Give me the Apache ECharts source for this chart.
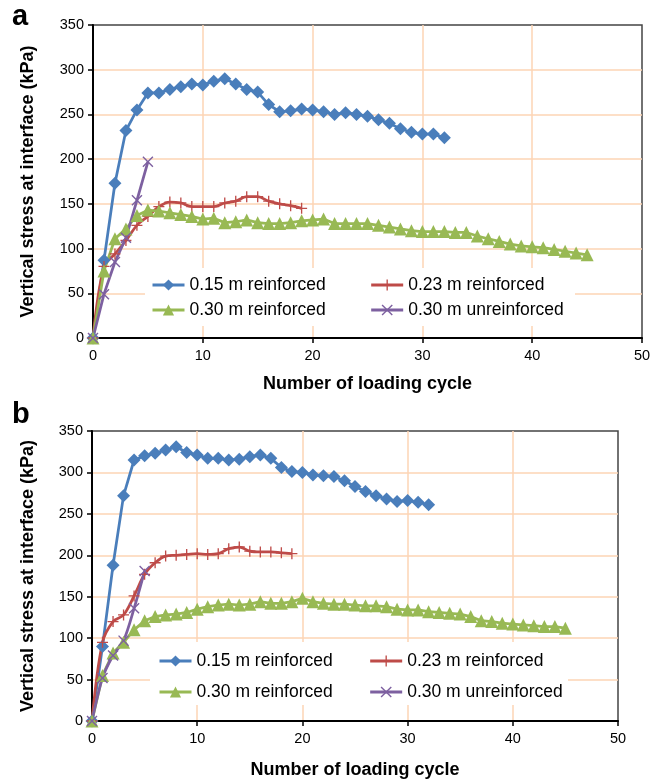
<!DOCTYPE html>
<html>
<head>
<meta charset="utf-8">
<script src="https://cdn.jsdelivr.net/npm/echarts@6/dist/echarts.min.js"></script>
<style>
  html, body { margin: 0; padding: 0; background: #fff; }
  #chart { width: 662px; height: 780px; }
</style>
</head>
<body>
<div id="chart"></div>
<script>
// series names
var names = ["0.15 m reinforced", "0.23 m reinforced", "0.30 m reinforced", "0.30 m unreinforced"];

// panel a - vertical stress (kPa), index = loading cycle
var blueA = [0, 87, 173, 232, 255, 274, 274, 278, 281, 284, 283, 287, 290, 284, 278, 275, 261, 253, 254, 256,
  255, 253, 250, 252, 250, 248, 244, 240, 234, 230, 228, 228, 224];
var redA = [0, 80, 94, 109, 126, 136, 147, 152, 151, 147, 147, 147, 151, 153, 158, 158, 153, 150, 148, 145];
var greenA = [0, 75, 111, 122, 137, 143, 142, 140, 138, 136, 133, 134, 129, 130, 132, 129, 128, 128, 129, 131,
  132, 133, 128, 128, 128, 128, 126, 124, 122, 120, 119, 119, 119, 118, 118, 114, 111, 108, 105, 103,
  102, 101, 99, 97, 95, 93];
var purpleA = [0, 49, 85, 112, 154, 197];

// panel b
var blueB = [0, 90, 188, 272, 315, 320, 323, 327, 331, 324, 321, 317, 317, 315, 316, 319, 321, 317, 306, 301,
  300, 297, 296, 295, 290, 283, 277, 272, 268, 265, 266, 264, 261];
var redB = [0, 95, 120, 128, 151, 177, 191, 199, 200, 201, 202, 201, 202, 208, 210, 205, 204, 204, 203, 202];
var greenB = [0, 55, 82, 95, 110, 121, 126, 128, 129, 131, 135, 138, 140, 141, 140, 141, 144, 142, 142, 144,
  148, 144, 142, 141, 141, 140, 139, 139, 138, 135, 134, 134, 132, 131, 130, 129, 126, 121, 120, 118,
  117, 116, 115, 114, 114, 112];
var purpleB = [0, 52, 79, 97, 136, 181];

var colors = ["#4a7ebb", "#be4b48", "#98b954", "#7d60a0"];
var plusSym = "path://M4.4,0h1.2v4.4h4.4v1.2h-4.4v4.4h-1.2v-4.4h-4.4v-1.2h4.4z";
var crossSym = "path://M0,0.9L0.9,0L5,4.1L9.1,0L10,0.9L5.9,5L10,9.1L9.1,10L5,5.9L0.9,10L0,9.1L4.1,5Z";
var symbols = ["diamond", plusSym, "triangle", crossSym];
var symSizes = [13, 11, 13, 11];

var font = "Liberation Sans, Arial, sans-serif";

function toPairs(arr) {
  return arr.map(function (v, i) { return [i, v]; });
}

function makeSeries(idx, data, gi, smooth) {
  return {
    name: names[idx],
    type: "line",
    xAxisIndex: gi,
    yAxisIndex: gi,
    data: toPairs(data),
    symbol: symbols[idx],
    symbolSize: symSizes[idx],
    smooth: smooth || false,
    clip: false,
    color: colors[idx],
    lineStyle: { width: 2.75, color: colors[idx] },
    itemStyle: { color: colors[idx] },
    emphasis: { disabled: true }
  };
}

function xAx(gi, gap) {
  return {
    gridIndex: gi, type: "value", min: 0, max: 50, interval: 10,
    name: "Number of loading cycle", nameLocation: "middle", nameGap: gap,
    nameTextStyle: { fontFamily: font, fontSize: 18, fontWeight: "bold", color: "#000" },
    axisLine: { lineStyle: { color: "#000", width: 2 } },
    axisTick: { show: true, length: 5, lineStyle: { color: "#000", width: 1.5 } },
    axisLabel: { fontFamily: font, fontSize: 14.5, color: "#000", margin: 10 },
    splitLine: { show: true, showMinLine: false, showMaxLine: false, lineStyle: { color: "#fcd5b4", width: 1.5 } }
  };
}

function yAx(gi, gap) {
  return {
    gridIndex: gi, type: "value", min: 0, max: 350, interval: 50,
    name: "Vertical stress at interface (kPa)", nameLocation: "middle", nameGap: gap,
    nameTextStyle: { fontFamily: font, fontSize: 18, fontWeight: "bold", color: "#000" },
    axisLine: { show: true, lineStyle: { color: "#000", width: 2 } },
    axisTick: { show: true, length: 5, lineStyle: { color: "#000", width: 1.5 } },
    axisLabel: { fontFamily: font, fontSize: 14.5, color: "#000", margin: 9 },
    splitLine: { show: true, showMinLine: false, showMaxLine: false, lineStyle: { color: "#fcd5b4", width: 1.5 } }
  };
}

function legendRow(items, left, top, gap) {
  return {
    data: items, left: left, top: top, orient: "horizontal",
    itemGap: gap, itemWidth: 32, itemHeight: 14, padding: 0,
    selectedMode: false,
    lineStyle: { width: 3 },
    textStyle: { fontFamily: font, fontSize: 17.5, color: "#000", lineHeight: 20 }
  };
}

var chart = echarts.init(document.getElementById("chart"));
chart.setOption({
  animation: false,
  backgroundColor: "#fff",
  grid: [
    { left: 93, top: 25, width: 549, height: 313, show: true, borderColor: "#444", borderWidth: 1.5, backgroundColor: "transparent" },
    { left: 92, top: 431, width: 526, height: 291, show: true, borderColor: "#444", borderWidth: 1.5, backgroundColor: "transparent" }
  ],
  xAxis: [xAx(0, 37), xAx(1, 40)],
  yAxis: [yAx(0, 56), yAx(1, 55)],
  legend: [
    legendRow([names[0], names[1]], 151, 275, 44),
    legendRow([names[2], names[3]], 151, 300, 44),
    legendRow([names[0], names[1]], 158, 651, 36),
    legendRow([names[2], names[3]], 158, 682, 36)
  ],
  graphic: [
    { type: "rect", z: 1, shape: { x: 145, y: 268, width: 430, height: 58 }, style: { fill: "#fff" } },
    { type: "rect", z: 1, shape: { x: 150, y: 642, width: 418, height: 63 }, style: { fill: "#fff" } },
    { type: "text", left: 12, top: 2, style: { text: "a", font: "bold 29px Liberation Sans, Arial, sans-serif", fill: "#000" } },
    { type: "text", left: 12, top: 400, style: { text: "b", font: "bold 29px Liberation Sans, Arial, sans-serif", fill: "#000" } }
  ],
  series: [
    makeSeries(0, blueA, 0),
    makeSeries(1, redA, 0, 0.35),
    makeSeries(2, greenA, 0),
    makeSeries(3, purpleA, 0),
    makeSeries(0, blueB, 1),
    makeSeries(1, redB, 1, 0.35),
    makeSeries(2, greenB, 1),
    makeSeries(3, purpleB, 1, 0.3)
  ]
});
</script>
</body>
</html>
